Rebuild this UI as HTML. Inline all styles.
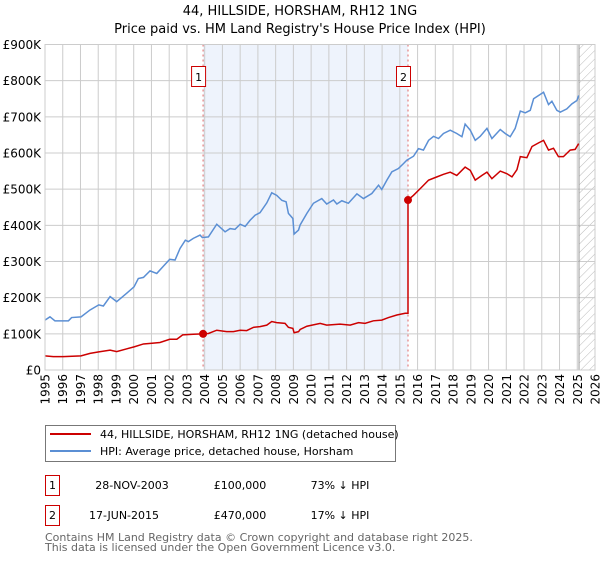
<!DOCTYPE html>
<html><head><meta charset="utf-8"><style>
body{margin:0;background:#fff;font-family:"Liberation Sans","DejaVu Sans",sans-serif;}
svg text{font-family:"DejaVu Sans","Liberation Sans",sans-serif;}
</style></head><body>
<svg id="chart" width="600" height="560" viewBox="0 0 600 560" xmlns="http://www.w3.org/2000/svg">
<defs><pattern id="hatch" width="6" height="6" patternUnits="userSpaceOnUse" patternTransform="rotate(45)"><line x1="0" y1="0" x2="0" y2="6" stroke="#bbb" stroke-width="1"/></pattern></defs>
<text x="300" y="15" text-anchor="middle" font-size="13">44, HILLSIDE, HORSHAM, RH12 1NG</text>
<text x="300" y="33" text-anchor="middle" font-size="13">Price paid vs. HM Land Registry's House Price Index (HPI)</text>
<g id="plot"></g>
<g>
<rect x="45.5" y="425.5" width="350" height="36" fill="#fff" stroke="#777"/>
<line x1="50" y1="434" x2="91" y2="434" stroke="#cc0000" stroke-width="2"/>
<text x="100" y="438" font-size="11">44, HILLSIDE, HORSHAM, RH12 1NG (detached house)</text>
<line x1="50" y1="451" x2="91" y2="451" stroke="#5b8fd4" stroke-width="2"/>
<text x="100" y="455" font-size="11">HPI: Average price, detached house, Horsham</text>
</g>
<g font-size="11">
<rect x="45.5" y="475.5" width="14" height="20" fill="#fff" stroke="#cc0000"/>
<text x="52.5" y="489" text-anchor="middle">1</text>
<text x="132" y="489" text-anchor="middle">28-NOV-2003</text>
<text x="240" y="489" text-anchor="middle">£100,000</text>
<text x="340" y="489" text-anchor="middle">73% ↓ HPI</text>
<rect x="45.5" y="505.5" width="14" height="20" fill="#fff" stroke="#cc0000"/>
<text x="52.5" y="519" text-anchor="middle">2</text>
<text x="124" y="519" text-anchor="middle">17-JUN-2015</text>
<text x="240" y="519" text-anchor="middle">£470,000</text>
<text x="340" y="519" text-anchor="middle">17% ↓ HPI</text>
</g>
<text x="45" y="541" font-size="11" fill="#666">Contains HM Land Registry data © Crown copyright and database right 2025.</text>
<text x="45" y="551" font-size="11" fill="#666">This data is licensed under the Open Government Licence v3.0.</text>
</svg>
<script>
const hpiYears=[1995.0,1995.28,1995.56,1996.03,1996.32,1996.5,1997.03,1997.54,1998.03,1998.29,1998.67,1999.04,1999.6,2000.02,2000.26,2000.55,2000.92,2001.3,2001.67,2002.03,2002.33,2002.61,2002.91,2003.08,2003.36,2003.74,2003.87,2004.21,2004.68,2005.15,2005.43,2005.71,2006.0,2006.28,2006.56,2006.84,2007.12,2007.5,2007.78,2008.06,2008.35,2008.59,2008.72,2008.97,2009.04,2009.29,2009.38,2009.76,2010.13,2010.6,2010.88,2011.26,2011.45,2011.73,2012.1,2012.58,2012.95,2013.42,2013.8,2013.98,2014.27,2014.55,2014.92,2015.21,2015.39,2015.77,2016.05,2016.33,2016.62,2016.9,2017.18,2017.46,2017.84,2018.21,2018.5,2018.68,2018.97,2019.25,2019.53,2019.91,2020.19,2020.66,2020.94,2021.22,2021.5,2021.79,2022.07,2022.35,2022.54,2022.82,2023.1,2023.38,2023.57,2023.85,2024.04,2024.41,2024.7,2024.98,2025.08];
const hpiValues=[138,147,136,136,136,145,147,166,180,177,203,189,212,230,253,256,274,267,287,306,304,336,359,355,364,373,366,368,403,382,391,389,403,397,414,428,435,462,490,483,469,465,433,419,376,387,401,433,461,474,459,470,459,468,461,487,474,488,511,499,525,548,557,571,580,591,612,608,635,646,640,654,663,654,645,680,663,635,646,668,640,665,654,645,668,716,711,718,750,759,768,734,743,718,713,722,736,745,759];
const ppYears=[1995.0,1995.47,1996.03,1997.03,1997.54,1998.03,1998.67,1999.04,2000.02,2000.55,2001.03,2001.48,2002.03,2002.43,2002.76,2003.36,2003.91,2004.21,2004.68,2005.24,2005.62,2006.0,2006.37,2006.75,2007.12,2007.5,2007.78,2008.06,2008.53,2008.72,2008.97,2009.04,2009.29,2009.38,2009.76,2010.51,2010.88,2011.63,2012.2,2012.67,2013.04,2013.51,2013.98,2014.36,2014.83,2015.3,2015.46,2015.46,2015.77,2016.24,2016.62,2017.09,2017.46,2017.84,2018.21,2018.68,2018.97,2019.25,2019.63,2019.91,2020.19,2020.66,2021.03,2021.32,2021.6,2021.79,2022.16,2022.45,2022.82,2023.1,2023.38,2023.66,2023.94,2024.22,2024.6,2024.88,2025.08];
const ppValues=[39,37,37,39,46,50,55,51,64,72,74,76,85,85,97,99,100,101,110,106,106,110,109,118,120,124,134,131,129,118,115,103,106,112,121,129,124,127,124,131,129,136,138,145,152,157,157,470,483,506,525,534,541,547,538,561,552,525,538,547,529,550,543,534,554,590,587,618,628,635,608,613,590,590,608,610,626];
const saleYears=[2003.91,2015.46];
const saleValues=[100,470];
const saleLabels=["1","2"];
const yTicks=[0,100,200,300,400,500,600,700,800,900];
const yTickLabels=["£0","£100K","£200K","£300K","£400K","£500K","£600K","£700K","£800K","£900K"];
const xTicks=[1995,1996,1997,1998,1999,2000,2001,2002,2003,2004,2005,2006,2007,2008,2009,2010,2011,2012,2013,2014,2015,2016,2017,2018,2019,2020,2021,2022,2023,2024,2025,2026];
const hatchStart=2025.1;

const L=45,R=595,T=44.5,B=370;
const xs=y=>L+(y-1995)/(2026-1995)*(R-L);
const ys=v=>B-v/900*(B-T);
const NS="http://www.w3.org/2000/svg";
const g=document.getElementById('plot');
function mk(tag,attrs,parent){const e=document.createElementNS(NS,tag);for(const k in attrs)e.setAttribute(k,attrs[k]);(parent||g).appendChild(e);return e;}

let sh=mk('rect',{x:xs(saleYears[0]),y:T,width:xs(saleYears[1])-xs(saleYears[0]),height:B-T,fill:'#eef3fc'});


let ht=mk('rect',{x:xs(hatchStart),y:T,width:R-xs(hatchStart),height:B-T,fill:'url(#hatch)'});



yTicks.forEach((t,i)=>{
  let l=mk('line',{x1:L,x2:R,y1:ys(t),y2:ys(t),stroke:'#cccccc','stroke-width':1});
  
  
  let tx=mk('text',{x:L-4,y:ys(t)+4.5,'text-anchor':'end','font-size':12});
  tx.textContent=yTickLabels[i];
  
  
});
xTicks.forEach(t=>{
  let l=mk('line',{x1:xs(t),x2:xs(t),y1:T,y2:B,stroke:'#cccccc','stroke-width':1});
  
  
  let tx=mk('text',{x:0,y:0,'text-anchor':'end','font-size':12,transform:`translate(${xs(t)+4.5},374) rotate(-90)`});
  tx.textContent=t;
  
  
});
let hl=mk('line',{x1:xs(hatchStart),x2:xs(hatchStart),y1:T,y2:B,stroke:'#999','stroke-width':1});



saleYears.forEach((y,i)=>{
  let l=mk('line',{x1:xs(y),x2:xs(y),y1:T,y2:B,stroke:'#e06666','stroke-width':1,'stroke-dasharray':'2,3'});
  
  
  let b=mk('rect',{x:xs(y)-11.5,y:66.5,width:14,height:20,fill:'#fff',stroke:'#cc0000'});
  
  
  let t=mk('text',{x:xs(y)-4.5,y:81,'text-anchor':'middle','font-size':11});
  t.textContent=saleLabels[i];
  
  
});

let hp=mk('polyline',{points:hpiYears.map((y,i)=>xs(y)+','+ys(hpiValues[i])).join(' '),fill:'none',stroke:'#5b8fd4','stroke-width':1.5});


let pp=mk('polyline',{points:ppYears.map((y,i)=>xs(y)+','+ys(ppValues[i])).join(' '),fill:'none',stroke:'#cc0000','stroke-width':1.5});


saleYears.forEach((y,i)=>{
  let c=mk('circle',{cx:xs(y),cy:ys(saleValues[i]),r:4,fill:'#cc0000'});
  
  
});
let fr=mk('rect',{x:L,y:T,width:R-L,height:B-T,fill:'none',stroke:'#cccccc'});


</script>
</body></html>
